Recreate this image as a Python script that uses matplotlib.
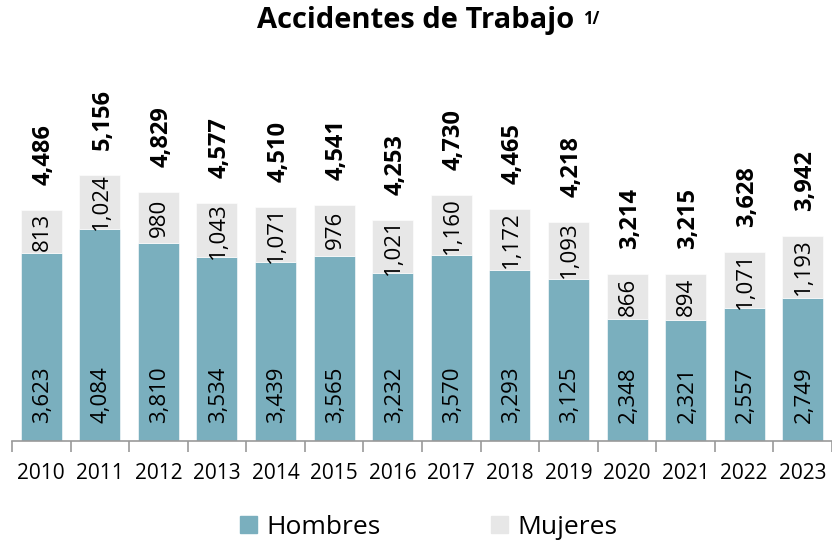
import numpy as np
import matplotlib.pyplot as plt
from matplotlib.patches import Patch

plt.rcParams['font.family'] = ['Open Sans', 'DejaVu Sans']

years = ['2010', '2011', '2012', '2013', '2014', '2015', '2016',
         '2017', '2018', '2019', '2020', '2021', '2022', '2023']
hombres = [3623, 4084, 3810, 3534, 3439, 3565, 3232, 3570, 3293, 3125, 2348, 2321, 2557, 2749]
mujeres = [813, 1024, 980, 1043, 1071, 976, 1021, 1160, 1172, 1093, 866, 894, 1071, 1193]
totales = [4486, 5156, 4829, 4577, 4510, 4541, 4253, 4730, 4465, 4218, 3214, 3215, 3628, 3942]

c_h = '#7AAFBE'
c_m = '#E7E7E7'

fig = plt.figure(figsize=(8.32, 5.44), dpi=100)
# axes in pixel terms: left 12, right 838 (cut), baseline at 441
W, H = 832, 544
px_per = 268 / 5156
top_px = 60
ax = fig.add_axes([12 / W, (H - 441) / H, (832 - 12) / W, (441 - top_px) / H])
ymax = (441 - top_px) / px_per

x = np.arange(len(years))
ax.bar(x, hombres, width=0.7, color=c_h, edgecolor='white', linewidth=0.4)
ax.bar(x, mujeres, width=0.7, bottom=hombres, color=c_m, edgecolor='white', linewidth=0.4)

for i in range(len(years)):
    ax.annotate(f'{hombres[i]:,}', (x[i], 0), xytext=(1, 13), textcoords='offset points',
                rotation=90, ha='center', va='bottom', fontsize=16)
    ax.text(x[i] + 0.02, hombres[i] + mujeres[i] / 2, f'{mujeres[i]:,}',
            rotation=90, ha='center', va='center', fontsize=16)
    ax.annotate(f'{totales[i]:,}', (x[i], hombres[i] + mujeres[i]), xytext=(2, 18),
                textcoords='offset points', rotation=90, ha='center', va='bottom',
                fontsize=17, fontweight='bold')

ax.set_xlim(-0.5, 13.5 - 6 / 59)
ax.set_ylim(0, ymax)
ax.set_xticks(x)
ax.set_xticklabels(years, fontsize=15)
ax.set_xticks(np.arange(-0.5, 14, 1), minor=True)
ax.tick_params(axis='x', which='major', length=0, pad=16)
ax.tick_params(axis='x', which='minor', length=8, color='#999999', width=1.2)
ax.set_yticks([])
for s in ['left', 'right', 'top']:
    ax.spines[s].set_visible(False)
ax.spines['bottom'].set_color('#999999')
ax.spines['bottom'].set_linewidth(1.2)

fig.text(0.499, 1 - 6 / H, 'Accidentes de Trabajo', ha='center', va='top',
         fontsize=21, fontweight='bold')
fig.text(583 / W, 1 - 10 / H, '1/', ha='left', va='top', fontsize=12, fontweight='bold')

handles = [Patch(color=c_h, label='Hombres'), Patch(color=c_m, label='Mujeres')]
fig.legend(handles=handles, loc='lower center', bbox_to_anchor=(0.515, -0.036), ncol=2,
           frameon=False, fontsize=19, handlelength=0.65, handleheight=0.65,
           handletextpad=0.35, columnspacing=4.2)

fig.savefig('out.png', dpi=100)
